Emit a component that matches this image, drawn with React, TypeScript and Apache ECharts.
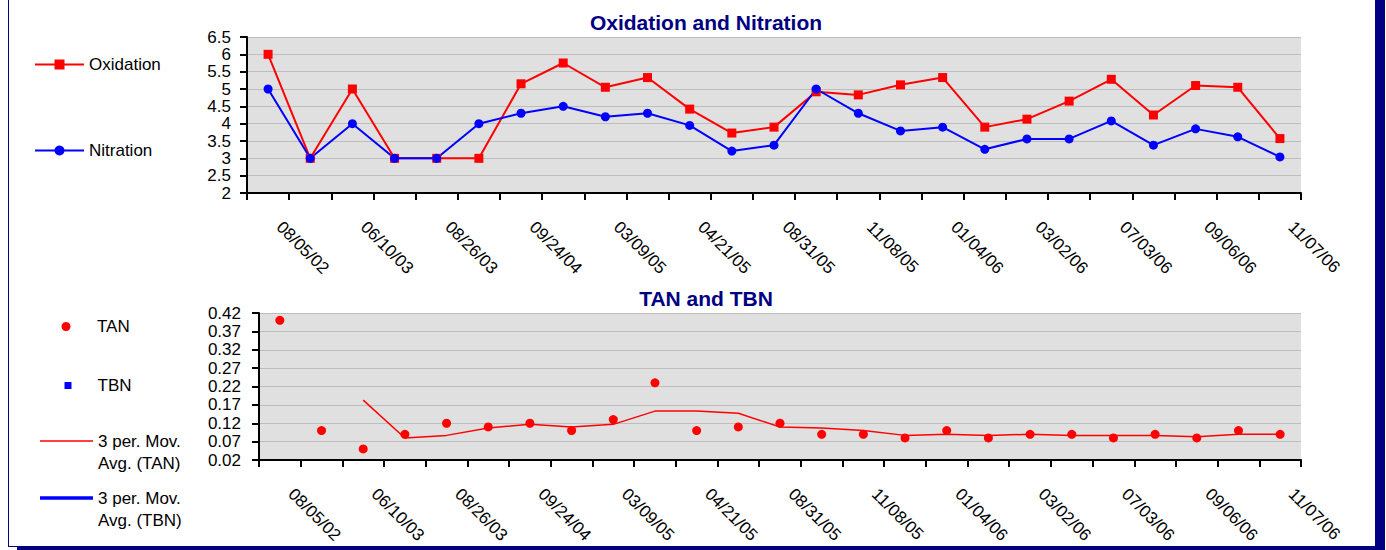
import React, { useEffect, useRef } from "react";
import * as echarts from "echarts";

// Category labels (every second sample date is shown on the axis)
const dateLabels = [
  "08/05/02", "", "06/10/03", "", "08/26/03", "", "09/24/04", "", "03/09/05", "",
  "04/21/05", "", "08/31/05", "", "11/08/05", "", "01/04/06", "", "03/02/06", "",
  "07/03/06", "", "09/06/06", "", "11/07/06",
];

const oxidation = [6, 3, 5, 3, 3, 3, 5.15, 5.75, 5.05, 5.33, 4.42, 3.73, 3.9, 4.92, 4.83, 5.12, 5.33, 3.9, 4.13, 4.65, 5.28, 4.25, 5.1, 5.05, 3.57];
const nitration = [5, 3, 4, 3, 3, 4, 4.3, 4.5, 4.2, 4.3, 3.95, 3.21, 3.38, 5, 4.3, 3.79, 3.9, 3.26, 3.56, 3.56, 4.08, 3.38, 3.85, 3.62, 3.04];

const tan = [0.4, 0.1, 0.05, 0.09, 0.12, 0.11, 0.12, 0.1, 0.13, 0.23, 0.1, 0.11, 0.12, 0.09, 0.09, 0.08, 0.1, 0.08, 0.09, 0.09, 0.08, 0.09, 0.08, 0.1, 0.09];
const tbn: (number | null)[] = Array(25).fill(null);
const tanMovAvg = [null, null, 0.183, 0.08, 0.087, 0.107, 0.117, 0.11, 0.117, 0.153, 0.153, 0.147, 0.11, 0.107, 0.1, 0.087, 0.09, 0.087, 0.09, 0.087, 0.087, 0.087, 0.083, 0.09, 0.09];
const tbnMovAvg: (number | null)[] = Array(25).fill(null);

const FONT = "'Liberation Sans', Arial, sans-serif";
const NAVY = "#000080";
const RED = "#FF0000";
const BLUE = "#0000FF";

const xAxisBase = (gridIndex: number) => ({
  type: "category",
  gridIndex,
  data: dateLabels,
  boundaryGap: true,
  axisLine: { show: true, onZero: false, lineStyle: { color: "#000", width: 2 } },
  axisTick: { show: true, interval: 0, length: 7, lineStyle: { color: "#000", width: 2 } },
  axisLabel: {
    interval: 0,
    rotate: -45,
    margin: 20,
    padding: [0, 0, 0, 16],
    fontSize: 17,
    color: "#000",
    fontFamily: FONT,
  },
  splitLine: { show: false },
});

const yAxisBase = (gridIndex: number, min: number, max: number, interval: number, margin: number) => ({
  type: "value",
  gridIndex,
  min,
  max,
  interval,
  axisLine: { show: true, lineStyle: { color: "#000", width: 2 } },
  axisTick: { show: true, length: 7, lineStyle: { color: "#000", width: 2 } },
  axisLabel: { margin, fontSize: 17, color: "#000", fontFamily: FONT },
  splitLine: { show: true, lineStyle: { color: "#BDBDBD", width: 1 } },
});

const legendText = { fontSize: 17, color: "#000", fontFamily: FONT };

const option = {
  animation: false,
  textStyle: { fontFamily: FONT },
  title: [
    {
      text: "Oxidation and Nitration",
      left: 701,
      top: 7,
      textAlign: "center",
      textStyle: { color: NAVY, fontSize: 21, fontWeight: "bold", fontFamily: FONT },
    },
    {
      text: "TAN and TBN",
      left: 701,
      top: 283,
      textAlign: "center",
      textStyle: { color: NAVY, fontSize: 21, fontWeight: "bold", fontFamily: FONT },
    },
  ],
  legend: [
    {
      data: ["Oxidation"], left: 34, top: 56, padding: 0, selectedMode: false,
      itemWidth: 49, itemHeight: 12.5, lineStyle: { width: 2 }, textStyle: legendText,
    },
    {
      data: ["Nitration"], left: 34, top: 142, padding: 0, selectedMode: false,
      itemWidth: 49, itemHeight: 12.5, lineStyle: { width: 2 }, textStyle: legendText,
    },
    {
      data: [{ name: "TAN", icon: "circle" }], left: 61.5, top: 318, padding: 0, selectedMode: false,
      itemWidth: 9, itemHeight: 9, itemStyle: { opacity: 1 },
      textStyle: { ...legendText, padding: [0, 0, 0, 21.5] },
    },
    {
      data: [{ name: "TBN", icon: "rect" }], left: 64.5, top: 377, padding: 0, selectedMode: false,
      itemWidth: 7, itemHeight: 7, itemStyle: { opacity: 1 },
      textStyle: { ...legendText, padding: [0, 0, 0, 21] },
    },
    {
      data: [{ name: "3 per. Mov. Avg. (TAN)", icon: "rect" }], left: 40, top: 408, padding: 0, selectedMode: false,
      itemWidth: 53, itemHeight: 1.5,
      formatter: (n: string) => "\n" + n.replace(" Avg.", "\nAvg."),
      textStyle: { ...legendText, lineHeight: 22 },
    },
    {
      data: [{ name: "3 per. Mov. Avg. (TBN)", icon: "rect" }], left: 40, top: 465, padding: 0, selectedMode: false,
      itemWidth: 53, itemHeight: 3.5,
      formatter: (n: string) => "\n" + n.replace(" Avg.", "\nAvg."),
      textStyle: { ...legendText, lineHeight: 22 },
    },
  ],
  grid: [
    { left: 247, top: 37, width: 1054, height: 156, show: true, backgroundColor: "#E0E0E0", borderWidth: 0 },
    { left: 259, top: 313, width: 1042, height: 147, show: true, backgroundColor: "#E0E0E0", borderWidth: 0 },
  ],
  xAxis: [xAxisBase(0), xAxisBase(1)],
  yAxis: [yAxisBase(0, 2, 6.5, 0.5, 16), yAxisBase(1, 0.02, 0.42, 0.05, 18)],
  series: [
    {
      name: "Oxidation", type: "line", xAxisIndex: 0, yAxisIndex: 0, data: oxidation,
      symbol: "rect", symbolSize: 9, color: RED, lineStyle: { color: RED, width: 2 },
      itemStyle: { color: RED },
    },
    {
      name: "Nitration", type: "line", xAxisIndex: 0, yAxisIndex: 0, data: nitration,
      symbol: "circle", symbolSize: 9, color: BLUE, lineStyle: { color: BLUE, width: 2 },
      itemStyle: { color: BLUE },
    },
    {
      name: "TAN", type: "scatter", xAxisIndex: 1, yAxisIndex: 1, data: tan,
      symbol: "circle", symbolSize: 9, itemStyle: { color: RED, opacity: 1 }, color: RED,
    },
    {
      name: "TBN", type: "scatter", xAxisIndex: 1, yAxisIndex: 1, data: tbn,
      symbol: "rect", symbolSize: 7, itemStyle: { color: BLUE, opacity: 1 }, color: BLUE,
    },
    {
      name: "3 per. Mov. Avg. (TAN)", type: "line", xAxisIndex: 1, yAxisIndex: 1, data: tanMovAvg,
      symbol: "none", color: RED, lineStyle: { color: RED, width: 1.5 }, itemStyle: { color: RED },
    },
    {
      name: "3 per. Mov. Avg. (TBN)", type: "line", xAxisIndex: 1, yAxisIndex: 1, data: tbnMovAvg,
      symbol: "none", color: BLUE, lineStyle: { color: BLUE, width: 3.5 }, itemStyle: { color: BLUE },
    },
  ],
};

export default function App() {
  const ref = useRef<HTMLDivElement>(null);
  useEffect(() => {
    const chart = echarts.init(ref.current!, null, { renderer: "svg" });
    chart.setOption(option as any);
    return () => chart.dispose();
  }, []);
  return (
    <div style={{ position: "fixed", left: 0, top: 0, width: 1386, height: 550, background: "#fff", overflow: "hidden" }}>
      <div
        style={{
          position: "absolute", left: 8, top: -10, width: 1366, height: 555,
          border: `1px solid ${NAVY}`, boxShadow: `9px 9px 0 ${NAVY}`,
        }}
      />
      <div ref={ref} style={{ position: "absolute", left: 0, top: 0, width: 1386, height: 550 }} />
    </div>
  );
}
